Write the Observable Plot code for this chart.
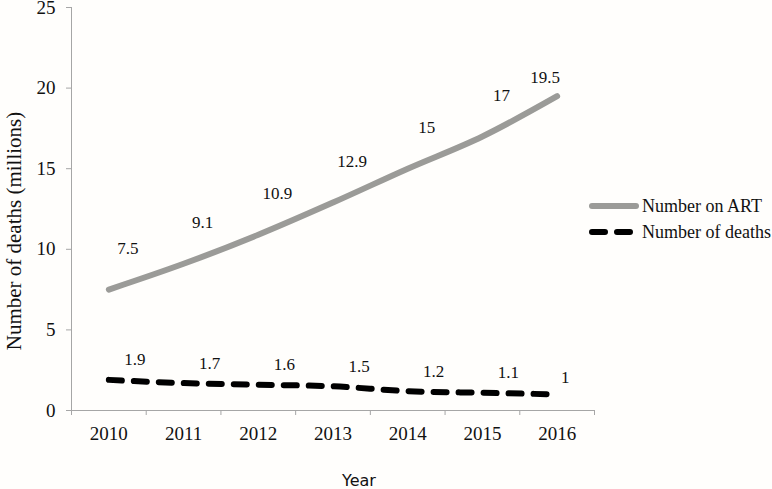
<!DOCTYPE html>
<html>
<head>
<meta charset="utf-8">
<script src="https://cdn.jsdelivr.net/npm/d3@7"></script>
<script src="https://cdn.jsdelivr.net/npm/@observablehq/plot@0.6"></script>
<style>
  html, body { margin: 0; padding: 0; background: #fffefc; }
  #wrap { position: relative; width: 772px; height: 489px; }
  #legend { position: absolute; left: 589px; top: 193px; font-family: "Liberation Serif", serif; font-size: 18px; color: #111; }
  #legend .row { display: flex; align-items: center; height: 26px; }
  #legend svg { margin-right: 3px; }
</style>
</head>
<body>
<div id="wrap"><div id="legend"></div></div>
<script>
const years = [2010, 2011, 2012, 2013, 2014, 2015, 2016];
const onART = [7.5, 9.1, 10.9, 12.9, 15, 17, 19.5];
const deaths = [1.9, 1.7, 1.6, 1.5, 1.2, 1.1, 1];
const yTicks = [0, 5, 10, 15, 20, 25];
const seriesNames = ["Number on ART", "Number of deaths"];
const yTitle = "Number of deaths (millions)";
const xTitle = "Year";

const artData = years.map((y, i) => ({year: y, value: onART[i]}));
const deathData = years.map((y, i) => ({year: y, value: deaths[i]}));
const bounds = [...years.map(y => y - 0.5), years[years.length - 1] + 0.5];
const last = years[years.length - 1];

const serif = "Liberation Serif";
const chart = Plot.plot({
  width: 772,
  height: 489,
  marginLeft: 71,
  marginRight: 178,
  marginTop: 7,
  marginBottom: 79,
  style: {background: "transparent", fontFamily: serif, color: "#111", overflow: "visible"},
  x: {domain: [bounds[0], bounds[bounds.length - 1]]},
  y: {domain: [0, 25]},
  marks: [
    Plot.ruleX([bounds[0]], {stroke: "#a6a6a6", strokeWidth: 1}),
    Plot.ruleY([0], {stroke: "#a6a6a6", strokeWidth: 1}),
    Plot.axisY({ticks: yTicks, tickSize: 5, tickPadding: 11, stroke: "#a6a6a6", fontSize: 19, label: null, fill: "#111"}),
    Plot.axisX({ticks: bounds, tickSize: 5, tickFormat: () => "", stroke: "#a6a6a6", label: null}),
    Plot.axisX({ticks: years, tickSize: 0, tickPadding: 16, tickFormat: d => String(d), fontSize: 19, label: null, fill: "#111"}),
    Plot.line(artData, {x: "year", y: "value", stroke: "#9b9b98", strokeWidth: 6, strokeLinecap: "round", curve: "monotone-x"}),
    Plot.line(deathData, {x: "year", y: "value", stroke: "#000", strokeWidth: 6, strokeLinecap: "round", strokeDasharray: "13,12", curve: "monotone-x"}),
    Plot.text(artData, {filter: d => d.year !== last, x: "year", y: "value", text: d => String(d.value), dx: 19, dy: -41, fontSize: 17, fill: "#111"}),
    Plot.text(artData, {filter: d => d.year === last, x: "year", y: "value", text: d => String(d.value), dx: -12, dy: -19, fontSize: 17, fill: "#111"}),
    Plot.text(deathData, {filter: d => d.year !== last, x: "year", y: "value", text: d => String(d.value), dx: 26, dy: -20, fontSize: 17, fill: "#111"}),
    Plot.text(deathData, {filter: d => d.year === last, x: "year", y: "value", text: d => String(d.value), dx: 8, dy: -17, fontSize: 17, fill: "#111"}),
    Plot.text([yTitle], {frameAnchor: "left", textAnchor: "middle", lineAnchor: "middle", rotate: -90, dx: -57, dy: 22, fontSize: 21, fill: "#111"}),
    Plot.text([xTitle], {frameAnchor: "bottom", lineAnchor: "middle", dx: 26, dy: 70, fontSize: 16, fontFamily: "DejaVu Sans", fill: "#111", style: "letter-spacing:1px"})
  ]
});
document.getElementById("wrap").prepend(chart);

const legend = document.getElementById("legend");
const styles = [
  {stroke: "#9b9b98", dash: null},
  {stroke: "#000", dash: "13,12"}
];
seriesNames.forEach((name, i) => {
  const row = document.createElement("div");
  row.className = "row";
  const s = styles[i];
  row.innerHTML = `<svg width="50" height="10"><line x1="3" y1="5" x2="47" y2="5" stroke="${s.stroke}" stroke-width="6" stroke-linecap="round" ${s.dash ? `stroke-dasharray="${s.dash}"` : ""}/></svg><span>${name}</span>`;
  legend.appendChild(row);
});
</script>
</body>
</html>
